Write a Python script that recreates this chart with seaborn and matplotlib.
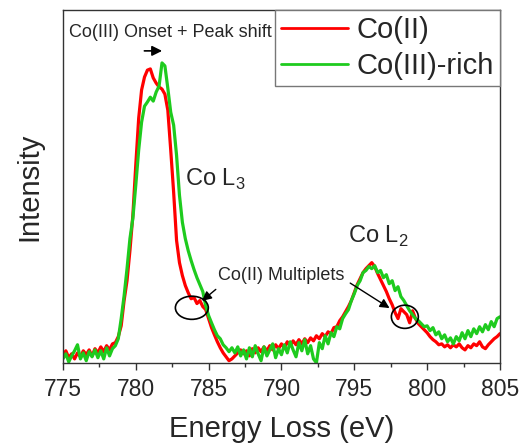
import numpy as np
import pandas as pd
import matplotlib
matplotlib.use('Agg')
import matplotlib.pyplot as plt
import seaborn as sns
from matplotlib.patches import Ellipse

# Co L2,3 EELS edges, intensity in arbitrary units
energy = np.linspace(775, 805, 151)   # eV, 0.2 eV steps

co2 = [
    2.3, 4.0, 1.7, 3.0, 1.3, 3.3, 2.0, 4.0, 2.7, 4.3,
    2.3, 4.7, 3.3, 5.3, 3.7, 5.7, 4.3, 6.3, 6.7, 8.7,
    12.3, 20.7, 27.3, 37.3, 49.0, 65.7, 81.3, 90.7, 95.0, 97.3,
    97.7, 94.7, 93.0, 91.7, 91.0, 89.3, 84.0, 70.7, 56.7, 40.7,
    33.3, 29.0, 25.7, 23.3, 21.3, 21.7, 19.7, 20.7, 18.7, 17.7,
    14.7, 11.7, 9.3, 7.0, 5.0, 3.3, 2.0, 0.7, 1.3, 2.3,
    3.3, 4.3, 3.0, 4.0, 2.3, 4.7, 3.3, 5.0, 3.7, 5.3,
    4.0, 5.7, 4.3, 6.0, 4.7, 6.3, 5.0, 7.0, 5.7, 7.3,
    6.0, 7.7, 6.3, 8.0, 6.7, 8.3, 7.3, 9.0, 8.0, 9.7,
    8.7, 10.3, 9.7, 11.7, 12.0, 14.0, 15.3, 17.0, 18.7, 20.7,
    23.3, 26.0, 28.0, 30.0, 31.3, 32.3, 33.3, 32.0, 29.7, 27.7,
    25.7, 23.7, 21.3, 19.3, 16.7, 14.7, 18.0, 17.0, 16.0, 13.3,
    17.3, 14.7, 13.0, 12.0, 11.0, 10.0, 8.7, 7.7, 7.0, 6.0,
    6.3, 5.3, 6.0, 5.0, 6.0, 5.3, 6.3, 5.0, 4.3, 5.7,
    5.0, 6.3, 5.7, 7.0, 5.3, 4.7, 6.0, 7.0, 8.0, 8.7,
    9.7,
]

co3_rich = [
    1.3, 3.0, 0.3, 2.3, 4.0, 6.0, 1.3, 3.3, 0.7, 3.7,
    2.0, 4.3, 1.7, 4.0, 1.3, 5.0, 2.3, 4.7, 5.7, 8.0,
    14.7, 22.3, 31.3, 41.3, 48.0, 59.0, 70.7, 80.0, 85.3, 86.7,
    88.3, 87.0, 90.0, 92.0, 99.7, 98.7, 91.3, 83.3, 79.0, 69.0,
    55.7, 46.7, 41.3, 37.3, 34.0, 31.0, 28.3, 26.0, 23.7, 19.0,
    15.7, 13.3, 11.0, 9.0, 8.0, 6.0, 5.0, 3.7, 5.0, 3.3,
    5.3, 2.3, 4.3, 1.3, 5.0, 2.0, 5.7, 3.0, 0.7, 5.3,
    2.3, 4.3, 6.3, 1.7, 4.7, 2.7, 6.0, 3.3, 7.0, 4.3,
    2.0, 6.7, 4.0, 7.7, 3.0, 5.7, 1.3, 0.0, 6.7, 4.7,
    9.0, 6.3, 10.0, 8.7, 12.0, 11.3, 14.7, 16.3, 17.7, 20.7,
    23.0, 25.7, 27.3, 30.0, 30.7, 32.0, 31.3, 32.3, 30.0, 30.7,
    28.3, 29.3, 26.3, 27.3, 24.0, 25.3, 22.0, 20.7, 19.0, 17.3,
    16.0, 14.7, 14.0, 13.0, 12.0, 12.3, 10.7, 11.7, 9.3, 10.3,
    8.0, 9.3, 7.0, 8.3, 6.3, 8.7, 7.3, 10.0, 8.0, 10.7,
    8.7, 11.3, 9.7, 12.0, 10.3, 12.7, 11.0, 13.7, 12.0, 14.7,
    15.3,
]

labels = ['Co(II)', 'Co(III)-rich']
colors = ['#ff0000', '#1ecb1e']

df = pd.DataFrame({
    'Energy': np.concatenate([energy, energy]),
    'Intensity': np.concatenate([co2, co3_rich]),
    'Sample': [labels[0]] * len(energy) + [labels[1]] * len(energy),
})

sns.set_style('ticks')
plt.rcParams['font.family'] = ['Liberation Sans', 'DejaVu Sans']
plt.rcParams['mathtext.fontset'] = 'custom'
plt.rcParams['mathtext.rm'] = 'Liberation Sans'

fig = plt.figure(figsize=(5.2, 4.43), dpi=100)
ax = fig.add_axes([0.121, 0.181, 0.8405, 0.7965])

sns.lineplot(data=df, x='Energy', y='Intensity', hue='Sample',
             hue_order=labels, palette=colors, linewidth=2.3, ax=ax)

ax.set_xlim(775, 805)
ax.set_ylim(0, 117.3)
ax.set_xticks(np.arange(775, 806, 5))
ax.set_xticks(np.arange(777.5, 805, 5), minor=True)
ax.set_yticks([])
ax.tick_params(axis='x', which='major', length=5, width=1, labelsize=16.5,
               color='#333333', pad=6)
ax.tick_params(axis='x', which='minor', length=3, width=1, color='#333333')
for s in ax.spines.values():
    s.set_color('#333333')
    s.set_linewidth(1.0)

ax.set_xlabel('Energy Loss (eV)', fontsize=21, labelpad=10)
ax.set_ylabel('Intensity', fontsize=21, labelpad=14)

leg = ax.legend(loc='upper right', fontsize=21, frameon=True, fancybox=False,
                borderaxespad=0, borderpad=0.22, labelspacing=0.26,
                handlelength=2.3, handletextpad=0.28, framealpha=1)
leg.get_frame().set_edgecolor('#777777')
leg.get_frame().set_linewidth(1.0)
for line in leg.get_lines():
    line.set_linewidth(2.0)

# annotations
ax.text(782.35, 109.7, 'Co(III) Onset + Peak shift', fontsize=13,
        ha='center', va='center', zorder=1)
ax.annotate('', xy=(782.0, 103.7), xytext=(780.4, 103.7),
            arrowprops=dict(arrowstyle='-|>', color='black', lw=1.2,
                            mutation_scale=15))
ax.text(783.37, 59, r'Co L$_\mathregular{3}$', fontsize=17, va='baseline')
ax.text(794.56, 40, r'Co L$_\mathregular{2}$', fontsize=17, va='baseline')
ax.text(785.64, 29, 'Co(II) Multiplets', fontsize=13, va='center')
ax.annotate('', xy=(784.4, 20.0), xytext=(785.64, 25.0),
            arrowprops=dict(arrowstyle='-|>', color='black', lw=1.0,
                            mutation_scale=14))
ax.annotate('', xy=(797.58, 17.7), xytext=(794.56, 27.0),
            arrowprops=dict(arrowstyle='-|>', color='black', lw=1.0,
                            mutation_scale=14))
ax.add_patch(Ellipse((783.85, 18.3), 2.26, 7.7, fill=False,
                     edgecolor='black', lw=1.2, zorder=5))
ax.add_patch(Ellipse((798.47, 15.3), 1.85, 7.7, fill=False,
                     edgecolor='black', lw=1.2, zorder=5))

plt.savefig('out.png', dpi=100)
